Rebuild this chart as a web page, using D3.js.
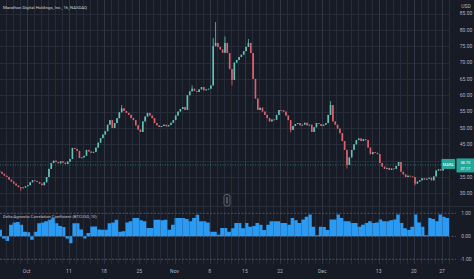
<!DOCTYPE html>
<html>
<head>
<meta charset="utf-8">
<script src="https://cdn.jsdelivr.net/npm/d3@7"></script>
<style>
  html, body { margin: 0; padding: 0; background: #171b26; overflow: hidden; }
  text { font-family: Roboto, "Liberation Sans", sans-serif; }
</style>
</head>
<body>
<div id="chart"></div>
<script>
// MARA 1h closes, three bars per trading day, Sep 27 .. Dec 27
const closes = [
  36.6, 36.0, 35.4, 35.0, 34.2, 33.6, 33.0, 32.4, 31.9, 31.6,
  31.8, 32.2, 32.5, 33.4, 34.0, 33.8, 33.5, 33.0, 32.5, 33.4,
  35.0, 37.5, 39.3, 40.0, 39.6, 39.2, 39.8, 39.4, 39.0, 39.7,
  40.5, 43.9, 43.6, 43.0, 40.8, 41.0, 41.5, 43.3, 42.8, 42.4,
  42.7, 44.0, 45.5, 46.9, 48.0, 49.0, 51.0, 52.4, 50.0, 51.5,
  53.0, 54.8, 56.0, 55.2, 54.6, 54.0, 53.0, 52.4, 50.8, 49.5,
  48.8, 52.0, 53.5, 54.6, 53.8, 53.0, 51.5, 50.8, 50.3, 50.6,
  51.0, 50.5, 50.9, 51.6, 52.4, 53.8, 55.0, 55.8, 56.4, 55.5,
  60.0, 61.2, 62.0, 61.3, 61.0, 61.8, 62.5, 61.5, 61.8, 62.0,
  63.0, 75.0, 76.0, 74.8, 74.0, 73.0, 76.0, 72.9, 68.0, 64.7,
  70.0, 70.8, 71.7, 72.4, 73.5, 74.8, 76.0, 72.9, 65.0, 59.0,
  55.5, 56.2, 55.0, 54.0, 53.0, 52.0, 52.6, 52.5, 54.0, 55.5,
  55.4, 55.0, 53.8, 52.4, 49.4, 50.6, 51.2, 51.5, 50.8, 51.0,
  51.6, 50.8, 51.0, 48.8, 50.2, 51.5, 51.2, 50.6, 51.0, 51.5,
  54.0, 57.0, 52.0, 51.0, 49.8, 48.4, 46.0, 43.3, 38.7, 41.0,
  43.3, 45.0, 46.3, 46.8, 46.0, 46.6, 46.3, 44.0, 42.0, 42.6,
  42.4, 42.0, 39.3, 38.2, 37.5, 37.8, 37.2, 37.6, 37.5, 38.4,
  39.6, 36.6, 35.8, 35.0, 35.4, 35.2, 35.0, 33.0, 33.6, 34.0,
  34.6, 34.2, 34.5, 34.8, 34.0, 35.2, 37.0, 37.4, 37.0, 37.8,
  38.4, 38.7
];
// the few wicks that stand out: [bar, price]
const wickHighs = [[91, 77.5], [92, 82.4], [96, 78.0], [106, 77.2], [141, 58.2], [52, 57.0], [82, 63.0]];
const wickLows = [[99, 63.0], [148, 37.6], [9, 30.8], [177, 32.4], [124, 48.6]];

// Delta-Agnostic Correlation Coefficient, two values per trading day
const corr = [
  0.29, -0.1, -0.2, 0.5, 0.6, 0.62, 0.5, 0.2, 0.18, -0.15,
  0.2, 0.57, 0.6, 0.65, 0.72, 0.8, 0.57, 0.45, 0.4, -0.1,
  -0.3, 0.57, 0.57, 0.3, -0.1, 0.14, 0.43, 0.43, 0.3, 0.29,
  0.29, 0.57, 0.6, 0.72, 0.2, 0.22, 0.6, 0.65, 0.8, 0.8,
  0.7, 0.65, 0.36, 0.36, 0.72, 0.72, 0.7, 0.72, 0.29, 0.5,
  0.8, 0.8, 0.8, 0.75, 0.65, 0.8, 0.94, 0.65, 0.65, 0.6,
  0.2, 0.2, 0.07, 0.36, 0.36, 0.2, 0.35, 0.58, 0.58, 0.35,
  0.58, 0.42, 0.45, 0.58, 0.5, 0.27, 0.5, 0.65, 0.65, 0.65,
  0.58, 0.58, 0.5, 0.8, 0.7, 0.58, 0.73, 0.85, 0.95, 0.42,
  0.05, 0.42, 0.4, 0.27, 0.73, 0.73, 0.95, 0.8, 0.65, 0.65,
  0.58, 0.58, 0.42, 0.5, 0.58, 0.65, 0.58, 0.6, 0.73, 0.65,
  0.65, 0.7, 0.73, 0.95, 0.58, 0.35, 0.27, 0.42, 0.95, 0.6,
  0.42, 0.05, 0.8, 0.75, 0.65, 0.95, 0.85, 0.8
];

const priceTicks = [30, 35, 40, 45, 50, 55, 60, 65, 70, 75, 80, 85];
const corrTicks = [1, 0, -1];
const dateLabels = ["Oct", "11", "18", "25", "Nov", "8", "15", "22", "Dec", "13", "20", "27"];
const dateDays = [4, 10, 15, 20, 25, 30, 35, 40, 46, 54, 59, 63];
const tradingDays = 64;
const barsPerDay = 3;
const corrPerDay = 2;
const symbol = "MARA";
const lastLabels = ["38.70", "37.17"];

const W = 474, H = 279;
const plotRight = 450;
const mainBottom = 206, subBottom = 264;

const svg = d3.select("#chart").append("svg")
  .attr("width", W).attr("height", H);

svg.append("rect").attr("width", W).attr("height", H).attr("fill", "#171b26");

const x = d3.scaleLinear().domain([0, tradingDays]).range([-1.5, -1.5 + tradingDays * 7.04]);
const y = d3.scaleLinear().domain([30, 85]).range([193.4, 13.5]);
const yc = d3.scaleLinear().domain([-1, 1]).range([259.3, 213.3]);

// grid
const grid = svg.append("g");
grid.selectAll(".hg").data(priceTicks).enter().append("line")
  .attr("x1", 0).attr("x2", plotRight)
  .attr("y1", d => Math.round(y(d)) + 0.5).attr("y2", d => Math.round(y(d)) + 0.5)
  .attr("stroke", "#262b38");
grid.selectAll(".vg").data(d3.range(tradingDays + 1)).enter().append("line")
  .attr("x1", d => Math.round(x(d)) + 0.5).attr("x2", d => Math.round(x(d)) + 0.5)
  .attr("y1", 0).attr("y2", subBottom)
  .attr("stroke", d => dateDays.includes(d) ? "#323746" : "#272c3a");

// pane separator
svg.append("line").attr("x1", 0).attr("x2", W)
  .attr("y1", mainBottom + 0.5).attr("y2", mainBottom + 0.5)
  .attr("stroke", "#2a2e39");

// candles
const bars = closes.map((c, i) => {
  const o = i > 0 ? closes[i - 1] : c + 0.3;
  return { i, o, c, h: Math.max(o, c), l: Math.min(o, c) };
});
wickHighs.forEach(([i, v]) => { bars[i].h = v; });
wickLows.forEach(([i, v]) => { bars[i].l = v; });

const bx = i => x(i / barsPerDay + 0.5 / barsPerDay);
const upCol = "#5fc4b6", dnCol = "#e25f6b";
const cg = svg.append("g");
cg.selectAll(".wick").data(bars).enter().append("line")
  .attr("x1", d => bx(d.i)).attr("x2", d => bx(d.i))
  .attr("y1", d => y(d.h)).attr("y2", d => y(d.l))
  .attr("stroke", d => d.c >= d.o ? upCol : dnCol)
  .attr("stroke-width", 0.8);
cg.selectAll(".body").data(bars).enter().append("rect")
  .attr("x", d => bx(d.i) - 0.8)
  .attr("width", 1.6)
  .attr("y", d => y(Math.max(d.o, d.c)))
  .attr("height", d => Math.max(0.8, Math.abs(y(d.o) - y(d.c))))
  .attr("fill", d => d.c >= d.o ? upCol : dnCol);

// last price line
const last = closes[closes.length - 1];
svg.append("line")
  .attr("x1", 0).attr("x2", plotRight)
  .attr("y1", y(last)).attr("y2", y(last))
  .attr("stroke", "#26a69a").attr("stroke-width", 0.6)
  .attr("stroke-dasharray", "1,1.5");

// correlation area
const area = d3.area()
  .curve(d3.curveStepAfter)
  .x((d, i) => x(i / corrPerDay))
  .y0(yc(0))
  .y1(d => yc(d));
const corrData = corr.concat([corr[corr.length - 1]]);

svg.selectAll(".cl").data(corrTicks).enter().append("line")
  .attr("x1", 0).attr("x2", 456)
  .attr("y1", d => yc(d)).attr("y2", d => yc(d))
  .attr("stroke", "#6b6f7c").attr("stroke-width", 0.7)
  .attr("stroke-dasharray", "2,1.5");

svg.append("path").datum(corrData)
  .attr("d", area)
  .attr("fill", "#2b9af3");

svg.append("g").selectAll("line").data(d3.range(tradingDays + 1)).enter().append("line")
  .attr("x1", d => Math.round(x(d)) + 0.5).attr("x2", d => Math.round(x(d)) + 0.5)
  .attr("y1", mainBottom + 1).attr("y2", subBottom)
  .attr("stroke", "rgba(30,40,60,0.25)");

// right axis (tick labels under the last-price box are hidden, as the platform does)
const ly = y(last);
const ax = svg.append("g").attr("font-size", 5).attr("fill", "#b2b5be").attr("text-anchor", "middle");
ax.selectAll(".pt").data(priceTicks.filter(d => Math.abs(y(d) - ly) > 8)).enter().append("text")
  .attr("x", 466).attr("y", d => y(d) + 1.8)
  .text(d => d.toFixed(2));
ax.append("text").attr("x", 466).attr("y", 7.8).text("USD");
ax.selectAll(".ct").data(corrTicks).enter().append("text")
  .attr("x", 466).attr("y", d => yc(d) + 1.8)
  .text(d => d.toFixed(2));

// time axis
svg.append("g").attr("font-size", 5).attr("fill", "#b2b5be").attr("text-anchor", "middle")
  .selectAll("text").data(dateLabels).enter().append("text")
  .attr("x", (d, i) => x(dateDays[i]))
  .attr("y", 273)
  .text(d => d);

// last price labels
svg.append("rect").attr("x", 441.5).attr("y", ly - 6).attr("width", 13.5).attr("height", 10)
  .attr("fill", "#26a69a");
svg.append("text").attr("x", 448.2).attr("y", ly + 0.6).attr("font-size", 3.8)
  .attr("fill", "#ffffff").attr("text-anchor", "middle").text(symbol);
svg.append("rect").attr("x", 456.5).attr("y", ly - 6.5).attr("width", 17.5).attr("height", 14)
  .attr("fill", "#26a69a");
svg.selectAll(".ll").data(lastLabels).enter().append("text")
  .attr("x", 465.3).attr("y", (d, i) => ly - 1.3 + i * 6)
  .attr("font-size", 3.9).attr("fill", "#ffffff").attr("text-anchor", "middle")
  .text(d => d);

// titles
svg.append("text").attr("x", 3).attr("y", 8.5).attr("font-size", 4.3).attr("fill", "#d1d4dc")
  .text("Marathon Digital Holdings, Inc., 1h, NASDAQ");
svg.append("text").attr("x", 3).attr("y", 217.8).attr("font-size", 4.1).attr("fill", "#c3c6ce")
  .text("Delta-Agnostic Correlation Coefficient (BTCUSD, 10)");

// pane collapse button
svg.append("rect").attr("x", 224).attr("y", 194.5).attr("width", 6).attr("height", 11.5).attr("rx", 2)
  .attr("fill", "#1e222d").attr("stroke", "#787b86").attr("stroke-width", 0.7);
svg.append("line").attr("x1", 227).attr("x2", 227).attr("y1", 197).attr("y2", 203.5)
  .attr("stroke", "#9598a1").attr("stroke-width", 0.8);
</script>
</body>
</html>
